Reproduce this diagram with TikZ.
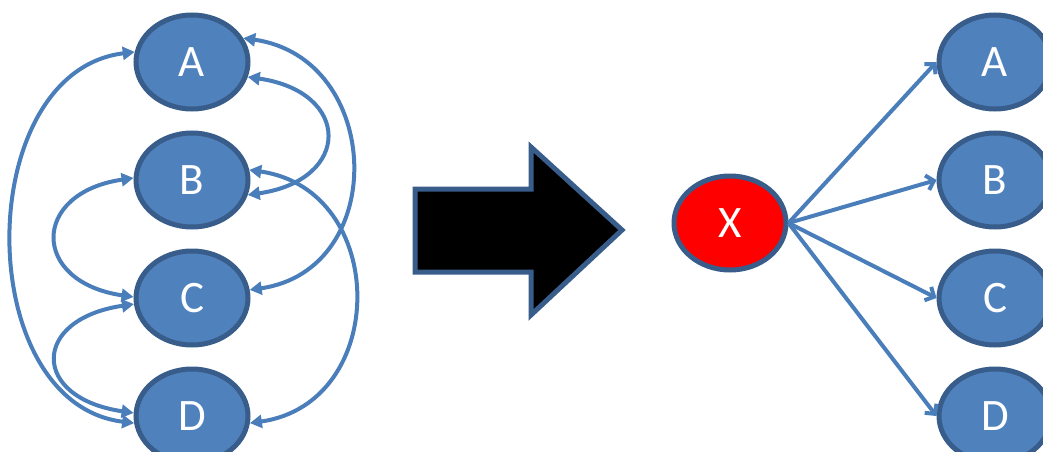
\documentclass[tikz,border=0pt]{standalone}
\usepackage{fontspec}
\setmainfont{Carlito}
\usetikzlibrary{positioning,shapes.geometric,arrows.meta}

\definecolor{nodefill}{HTML}{4F81BD}
\definecolor{nodeline}{HTML}{385D8A}
\definecolor{edgeblue}{HTML}{4A7EBB}

\tikzset{
  var/.style={ellipse, draw=nodeline, fill=nodefill, line width=5pt,
    minimum width=112pt, minimum height=94pt, inner sep=0pt,
    text=white, font=\fontsize{45}{50}\selectfont},
  cause/.style={var, fill=red},
  mutual/.style={draw=edgeblue, line width=4pt,
    {Triangle[length=12pt,width=13pt]}-{Triangle[length=12pt,width=13pt]}},
  effect/.style={draw=edgeblue, line width=4pt,
    -{Straight Barb[length=7pt,width=15pt]}},
  bigarrow/.style={draw=nodeline, fill=black, line width=5pt, line join=miter},
}

\begin{document}
\begin{tikzpicture}[x=1pt, y=1pt, node distance=19pt]
  \useasboundingbox (0,0) rectangle (1043,451);

  % Define nodes
  \node[var]              (a1) at (192,389) {A};
  \node[var, below=of a1] (b1) {B};
  \node[var, below=of b1] (c1) {C};
  \node[var, below=of c1] (d1) {D};
  \node[cause]            (x)  at (730,228) {X};
  \node[var]              (a2) at (995,389) {A};
  \node[var, below=of a2] (b2) {B};
  \node[var, below=of b2] (c2) {C};
  \node[var, below=of c2] (d2) {D};

  % Connect the nodes
  \draw[mutual] (a1.170) .. controls +(-163,-20) and +(-163,20) .. (d1.187);
  \draw[mutual] (b1.178) .. controls +(-103,-15) and +(-103,15) .. (c1.179);
  \draw[mutual] (c1.186) .. controls +(-103,-15) and +(-103,15) .. (d1.177);
  \draw[mutual] (a1.-15) .. controls +(104,-15) and +(104,15) .. (b1.-15);
  \draw[mutual] (a1.25)  .. controls +(140,-20) and +(140,20) .. (c1.8);
  \draw[mutual] (b1.10)  .. controls +(140,-20) and +(140,20) .. (d1.-7);
  \foreach \t in {a2,b2,c2,d2}
    \draw[effect] (x.east) -- (\t.west);

  % Big arrow
  \draw[bigarrow] (415,262) -- (531,262) -- (531,304) -- (622,221)
    -- (531,136) -- (531,179) -- (415,179) -- cycle;

\end{tikzpicture}
\end{document}
